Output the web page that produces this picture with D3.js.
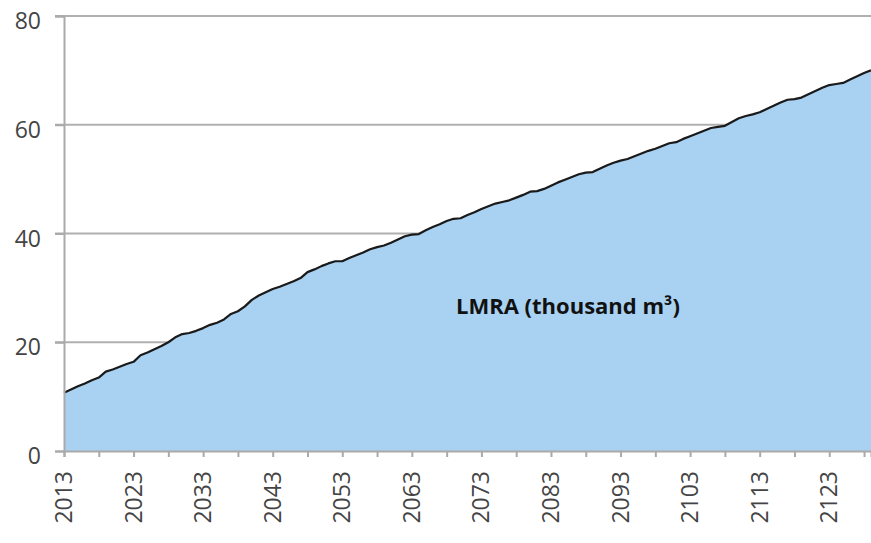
<!DOCTYPE html>
<html>
<head>
<meta charset="utf-8">
<script src="https://cdn.jsdelivr.net/npm/d3@7"></script>
<style>
  body { margin: 0; background: #fff; }
  svg { display: block; }
</style>
</head>
<body>
<svg id="chart" width="871" height="543"></svg>
<script>
// LMRA (thousand m3), one value per year from 2013
const startYear = 2013;
const lmraValues = [
  10.7, 11.3, 11.9, 12.4, 13.0, 13.5, 14.6, 15.0, 15.5, 16.0,
  16.4, 17.6, 18.1, 18.7, 19.3, 20.0, 20.9, 21.5, 21.7, 22.1,
  22.6, 23.2, 23.6, 24.2, 25.2, 25.7, 26.6, 27.8, 28.6, 29.2,
  29.8, 30.2, 30.7, 31.2, 31.8, 32.9, 33.4, 34.0, 34.5, 34.9,
  34.9, 35.5, 36.0, 36.5, 37.1, 37.5, 37.8, 38.3, 38.9, 39.5,
  39.8, 39.9, 40.6, 41.2, 41.7, 42.3, 42.7, 42.8, 43.4, 43.9,
  44.5, 45.0, 45.5, 45.8, 46.1, 46.6, 47.1, 47.7, 47.8, 48.2,
  48.8, 49.4, 49.9, 50.4, 50.9, 51.2, 51.3, 51.9, 52.5, 53.0,
  53.4, 53.7, 54.2, 54.7, 55.2, 55.6, 56.1, 56.6, 56.8, 57.4,
  57.9, 58.4, 58.9, 59.4, 59.6, 59.8, 60.5, 61.2, 61.6, 61.9,
  62.3, 62.9, 63.5, 64.1, 64.6, 64.7, 65.0, 65.6, 66.2, 66.8,
  67.3, 67.5, 67.7, 68.3, 68.9, 69.5, 70.0
];
const years = lmraValues.map((d, i) => startYear + i);
const yTicks = [0, 20, 40, 60, 80];
const xLabelYears = [2013, 2023, 2033, 2043, 2053, 2063, 2073, 2083, 2093, 2103, 2113, 2123];
const xMinorYears = d3.range(2013, 2130, 5);
const seriesLabel = "LMRA (thousand m³)";

const svg = d3.select("#chart");
const margin = { left: 64, right: 0, top: 16, bottom: 92 };
const W = 871, H = 543;

const x = d3.scaleLinear()
    .domain([startYear, years[years.length - 1]])
    .range([margin.left, W - margin.right]);
const y = d3.scaleLinear()
    .domain([0, 80])
    .range([H - margin.bottom, margin.top]);

const data = years.map((yr, i) => ({ yr, v: lmraValues[i] }));

// gridlines, behind the area
svg.append("g")
    .selectAll("line")
    .data(yTicks.filter((t) => t > 0))
    .enter()
    .append("line")
    .attr("x1", 55).attr("x2", W)
    .attr("y1", (d) => y(d)).attr("y2", (d) => y(d))
    .attr("stroke", "#b0b0b0")
    .attr("stroke-width", 2);

// area
svg.append("path")
    .datum(data)
    .attr("fill", "#a9d1f1")
    .attr("d", d3.area().x((d) => x(d.yr)).y0(y(0)).y1((d) => y(d.v)));

// line
svg.append("path")
    .datum(data)
    .attr("fill", "none")
    .attr("stroke", "#1a1a1a")
    .attr("stroke-width", 2.2)
    .attr("stroke-linejoin", "round")
    .attr("d", d3.line().x((d) => x(d.yr)).y((d) => y(d.v)));

// y axis
const yAxis = svg.append("g")
    .attr("transform", `translate(${margin.left},0)`)
    .call(d3.axisLeft(y).tickValues(yTicks).tickSize(9).tickPadding(14));
yAxis.select(".domain").attr("stroke", "#aaa").attr("stroke-width", 2);
yAxis.selectAll(".tick line").attr("stroke", "#aaa").attr("stroke-width", 2);
yAxis.selectAll(".tick text")
    .attr("dy", "0.55em")
    .attr("fill", "#444")
    .style("font-family", "'Open Sans', sans-serif")
    .style("font-size", "23px");

// x axis
const xAxis = svg.append("g")
    .attr("transform", `translate(0,${y(0)})`)
    .call(d3.axisBottom(x).tickValues(xMinorYears).tickSize(6).tickFormat(""));
xAxis.select(".domain").attr("stroke", "#aaa").attr("stroke-width", 2);
xAxis.selectAll(".tick line").attr("stroke", "#aaa").attr("stroke-width", 2);

svg.append("g")
    .selectAll("text")
    .data(xLabelYears)
    .enter()
    .append("text")
    .attr("transform", (d) => `translate(${x(d) + 8},${y(0) + 20}) rotate(-90)`)
    .attr("text-anchor", "end")
    .attr("fill", "#444")
    .style("font-family", "'Open Sans', sans-serif")
    .style("font-size", "23px")
    .text((d) => d);

// series label
svg.append("text")
    .attr("x", 456)
    .attr("y", 314)
    .attr("fill", "#111")
    .style("font-family", "'Open Sans', sans-serif")
    .style("font-weight", "bold")
    .style("font-size", "22px")
    .text(seriesLabel);
</script>
</body>
</html>
